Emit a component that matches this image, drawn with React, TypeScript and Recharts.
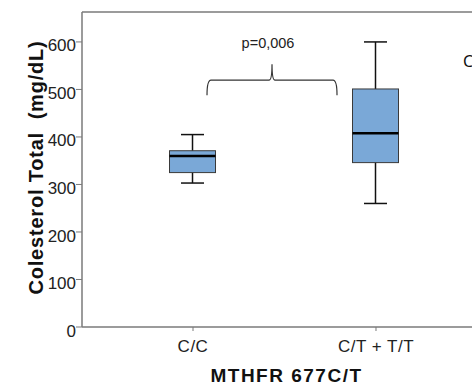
import React from "react";
import { ComposedChart, Bar, XAxis, YAxis, ReferenceArea, ReferenceLine } from "recharts";

const categories = ["C/C", "C/T + T/T"];
const whiskerLow = [303, 260];
const q1Values = [325, 346];
const medianValues = [360, 408];
const q3Values = [371, 501];
const whiskerHigh = [405, 600];
const yTicks = [0, 100, 200, 300, 400, 500, 600];
const yMax = 663;
const pValueLabel = "p=0,006";
const braceFrom = 0.0765; // category index units
const braceTo = 0.787;
const braceEnds = 488; // value at brace ends
const braceTip = 553; // value at brace tip
const yTitle = "Colesterol Total  (mg/dL)";
const xTitle = "MTHFR 677C/T";
const panelLetter = "C";

const data = categories.map((name, i) => ({
  idx: i,
  name,
  min: whiskerLow[i],
  q1: q1Values[i],
  median: medianValues[i],
  q3: q3Values[i],
  max: whiskerHigh[i],
}));

const FONT = "'Liberation Sans', Arial, sans-serif";
const AXIS = "#7a7a7a";

const BoxShape = (props: any) => {
  const { x, y, width, height, payload } = props;
  if (payload == null) return null;
  const lo = payload.min;
  const hi = payload.max;
  const k = height / (hi - lo);
  const py = (v: number) => y + (hi - v) * k;
  const cx = x + width / 2;
  const cap = 11.5;
  return (
    <g>
      <line x1={cx} x2={cx} y1={py(hi)} y2={py(lo)} stroke="#111" strokeWidth={1.5} />
      <line x1={cx - cap} x2={cx + cap} y1={py(hi)} y2={py(hi)} stroke="#111" strokeWidth={1.5} />
      <line x1={cx - cap} x2={cx + cap} y1={py(lo)} y2={py(lo)} stroke="#111" strokeWidth={1.5} />
      <rect
        x={x}
        y={py(payload.q3)}
        width={width}
        height={py(payload.q1) - py(payload.q3)}
        fill="#7aa8d7"
        stroke="#3a3a3a"
        strokeWidth={1}
      />
      <line x1={x} x2={x + width} y1={py(payload.median)} y2={py(payload.median)} stroke="#000" strokeWidth={2.5} />
    </g>
  );
};

const BraceShape = (props: any) => {
  const { x, y, width, height } = props;
  const L = x;
  const R = x + width;
  const T = y;
  const B = y + height;
  const M = T + 0.516 * height;
  const cx = (L + R) / 2;
  const d = `M ${L} ${B} Q ${L} ${M} ${L + 4} ${M} L ${cx - 3} ${M} Q ${cx} ${M} ${cx} ${T} Q ${cx} ${M} ${cx + 3} ${M} L ${R - 4} ${M} Q ${R} ${M} ${R} ${B}`;
  return (
    <g>
      <path d={d} fill="none" stroke="#333" strokeWidth={1.2} />
      <text x={cx - 4} y={T - 16.5} textAnchor="middle" fontFamily={FONT} fontSize={14.5} fill="#222">
        {pValueLabel}
      </text>
    </g>
  );
};

const YTick = (props: any) => {
  const { x, y, payload } = props;
  return (
    <text x={x + 1} y={y + 3.5} dy="0.355em" textAnchor="end" fontFamily={FONT} fontSize={17} fill="#222">
      {payload.value}
    </text>
  );
};

const XTick = (props: any) => {
  const { x, y, payload } = props;
  return (
    <text x={x} y={y} dy="0.71em" textAnchor="middle" fontFamily={FONT} fontSize={17} letterSpacing={0.5} fill="#222">
      {categories[payload.value]}
    </text>
  );
};

const YTitle = (props: any) => {
  const vb = props.viewBox || { x: 0, y: 12, width: 82, height: 315 };
  const tx = vb.x + 43;
  const ty = vb.y + vb.height / 2 - 2;
  return (
    <text
      x={tx}
      y={ty}
      transform={`rotate(-90, ${tx}, ${ty})`}
      textAnchor="middle"
      fontFamily={FONT}
      fontWeight="bold"
      fontSize={20}
      letterSpacing={0.8}
      fill="#111"
      style={{ whiteSpace: "pre" }}
    >
      {yTitle}
    </text>
  );
};

const XTitle = (props: any) => {
  const vb = props.viewBox || { x: 82, y: 327, width: 405, height: 58 };
  return (
    <text
      x={vb.x + vb.width / 2 + 2}
      y={vb.y + 55}
      textAnchor="middle"
      fontFamily={FONT}
      fontWeight="bold"
      fontSize={19}
      letterSpacing={1.5}
      fill="#111"
    >
      {xTitle}
    </text>
  );
};

export default function App() {
  return (
    <div style={{ position: "absolute", left: 0, top: 0, width: 472, height: 385, overflow: "hidden", background: "#fff" }}>
      <ComposedChart width={500} height={385} data={data} margin={{ top: 12, right: 13, bottom: 0, left: 0 }}>
        <XAxis
          type="number"
          dataKey="idx"
          domain={[-0.6066, 1.6066]}
          ticks={[0, 1]}
          allowDataOverflow
          axisLine={{ stroke: AXIS, strokeWidth: 1.5 }}
          tickLine={{ stroke: AXIS }}
          tickSize={4}
          tickMargin={9}
          tick={<XTick />}
          height={58}
          label={{ content: <XTitle /> } as any}
        />
        <YAxis
          type="number"
          domain={[0, yMax]}
          ticks={yTicks}
          allowDataOverflow
          width={82}
          axisLine={{ stroke: AXIS, strokeWidth: 1.5 }}
          tickLine={{ stroke: AXIS }}
          tickSize={6}
          tickMargin={1}
          tick={<YTick />}
          label={{ content: <YTitle /> } as any}
        />
        <ReferenceLine y={yMax} stroke={AXIS} strokeWidth={1.5} ifOverflow="visible" />
        <Bar dataKey={(d: any) => [d.min, d.max]} barSize={46} shape={<BoxShape />} isAnimationActive={false} />
        <ReferenceArea
          x1={braceFrom}
          x2={braceTo}
          y1={braceEnds}
          y2={braceTip}
          ifOverflow="visible"
          shape={<BraceShape />}
        />
      </ComposedChart>
      <svg style={{ position: "absolute", left: 0, top: 0 }} width={472} height={385} pointerEvents="none">
        <text x={463} y={67} fontFamily="'Noto Sans', sans-serif" fontSize={16} fill="#111">
          {panelLetter}
        </text>
      </svg>
    </div>
  );
}
